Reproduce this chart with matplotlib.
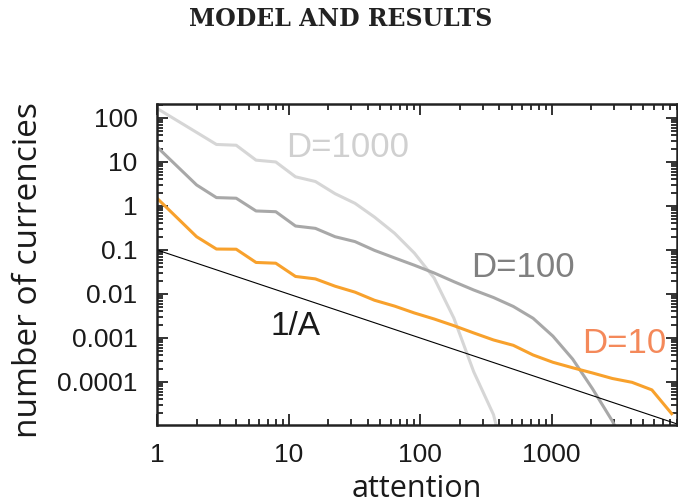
import matplotlib
matplotlib.use("Agg")
import matplotlib.pyplot as plt
from matplotlib.ticker import FixedLocator, FixedFormatter, LogLocator, NullFormatter

# ----------------------------------------------------------------------------
# data (log-log)

attention_d10 = [1, 2, 2.83, 4, 5.66, 8, 11.3, 16, 22.6, 32, 45, 64, 90.5, 128,
                 181, 256, 362, 512, 724, 1024, 1448, 2048, 2896, 4096, 5793, 8192]
currencies_d10 = [1.5, 0.2, 0.105, 0.104, 0.052, 0.05, 0.025, 0.022, 0.015, 0.011,
                  0.0072, 0.0053, 0.0037, 0.0027, 0.0019, 0.0013, 0.0009, 0.00068,
                  0.00041, 0.00028, 0.00021, 0.00016, 0.00012, 0.000098, 0.000066,
                  0.000019]

attention_d100 = [1, 2, 2.83, 4, 5.66, 8, 11.3, 16, 22.6, 32, 45, 64, 90.5, 128,
                  181, 256, 362, 512, 724, 1024, 1448, 2048, 2896, 3300]
currencies_d100 = [22, 3.0, 1.55, 1.5, 0.77, 0.74, 0.35, 0.31, 0.2, 0.155, 0.098,
                   0.066, 0.045, 0.030, 0.019, 0.0123, 0.0083, 0.0052, 0.0028,
                   0.0011, 0.00033, 0.00007, 0.000013, 0.000006]

attention_d1000 = [1, 2, 2.83, 4, 5.66, 8, 11.3, 16, 22.6, 32, 45, 64, 90.5, 128,
                   181, 256, 362, 420]
currencies_d1000 = [165, 47, 25, 24, 11, 10, 4.6, 3.6, 1.9, 1.15, 0.56, 0.24, 0.085,
                    0.023, 0.0028, 0.00017, 0.000018, 0.000003]

# reference power law 1/A (scaled by 0.1)
attention_ref = [1, 9000]
currencies_ref = [0.1, 0.1 / 9000]

x_ticks = [1, 10, 100, 1000]
x_tick_labels = ["1", "10", "100", "1000"]
y_ticks = [100, 10, 1, 0.1, 0.01, 0.001, 0.0001]
y_tick_labels = ["100", "10", "1", "0.1", "0.01", "0.001", "0.0001"]

# ----------------------------------------------------------------------------

ORANGE = "#f8a12c"
DARK_GREY = "#a8a8a8"
LIGHT_GREY = "#d6d6d6"


def main():
    fig = plt.figure(figsize=(6.78, 5.04), dpi=100)
    ax = fig.add_axes([0.2316, 0.1567, 0.767, 0.637])

    ax.plot(attention_d1000, currencies_d1000, color=LIGHT_GREY, lw=2.2)
    ax.plot(attention_d100, currencies_d100, color=DARK_GREY, lw=2.2)
    ax.plot(attention_d10, currencies_d10, color=ORANGE, lw=2.2)
    ax.plot(attention_ref, currencies_ref, color="black", lw=0.8)

    ax.set_xscale("log")
    ax.set_yscale("log")
    ax.set_xlim(1, 9000)
    ax.set_ylim(1.05e-5, 208)

    # ticks: inward on all four sides
    ax.xaxis.set_major_locator(FixedLocator(x_ticks))
    ax.xaxis.set_major_formatter(FixedFormatter(x_tick_labels))
    ax.yaxis.set_major_locator(FixedLocator(y_ticks))
    ax.yaxis.set_major_formatter(FixedFormatter(y_tick_labels))
    for axis in (ax.xaxis, ax.yaxis):
        axis.set_minor_locator(LogLocator(base=10, subs=range(2, 10), numticks=20))
        axis.set_minor_formatter(NullFormatter())
    ax.tick_params(which="both", direction="in", top=True, right=True,
                   width=1.3, color="#222222")
    ax.tick_params(which="major", length=8)
    ax.tick_params(which="minor", length=4)
    ax.tick_params(axis="y", which="major", pad=14, labelsize=19)
    ax.tick_params(axis="x", which="major", pad=13, labelsize=19)
    for lab in ax.get_xticklabels() + ax.get_yticklabels():
        lab.set_fontfamily("Liberation Sans")
        lab.set_color("#1a1a1a")
    for sp in ax.spines.values():
        sp.set_linewidth(1.8)
        sp.set_color("#222222")

    # axis labels
    ax.set_xlabel("attention", family="Open Sans", fontsize=22, color="#1a1a1a")
    ax.xaxis.set_label_coords(0.5, -0.2)
    ax.xaxis.label.set_verticalalignment("center")
    ax.set_ylabel("number of currencies", family="Open Sans", fontsize=24,
                  color="#1a1a1a")
    ax.yaxis.set_label_coords(-0.248, 0.483)
    ax.yaxis.label.set_verticalalignment("center")

    # curve annotations
    ax.text(27.9, 20.8, "D=1000", color="#d0d0d0", fontsize=25,
            family="Liberation Sans", ha="center", va="center")
    ax.text(607, 0.039, "D=100", color="#808080", fontsize=25,
            family="Liberation Sans", ha="center", va="center")
    ax.text(3590, 7.3e-4, "D=10", color="#f4895a", fontsize=25,
            family="Liberation Sans", ha="center", va="center")
    ax.text(11.2, 0.0018, "1/A", color="#1a1a1a", fontsize=24,
            family="Liberation Sans", ha="center", va="center")

    # running page header
    fig.text(0.503, 0.963, "MODEL AND RESULTS", family="DejaVu Serif",
             weight="bold", fontsize=17, color="#222222", ha="center", va="center")

    fig.savefig("out.png", dpi=100)


if __name__ == "__main__":
    main()
